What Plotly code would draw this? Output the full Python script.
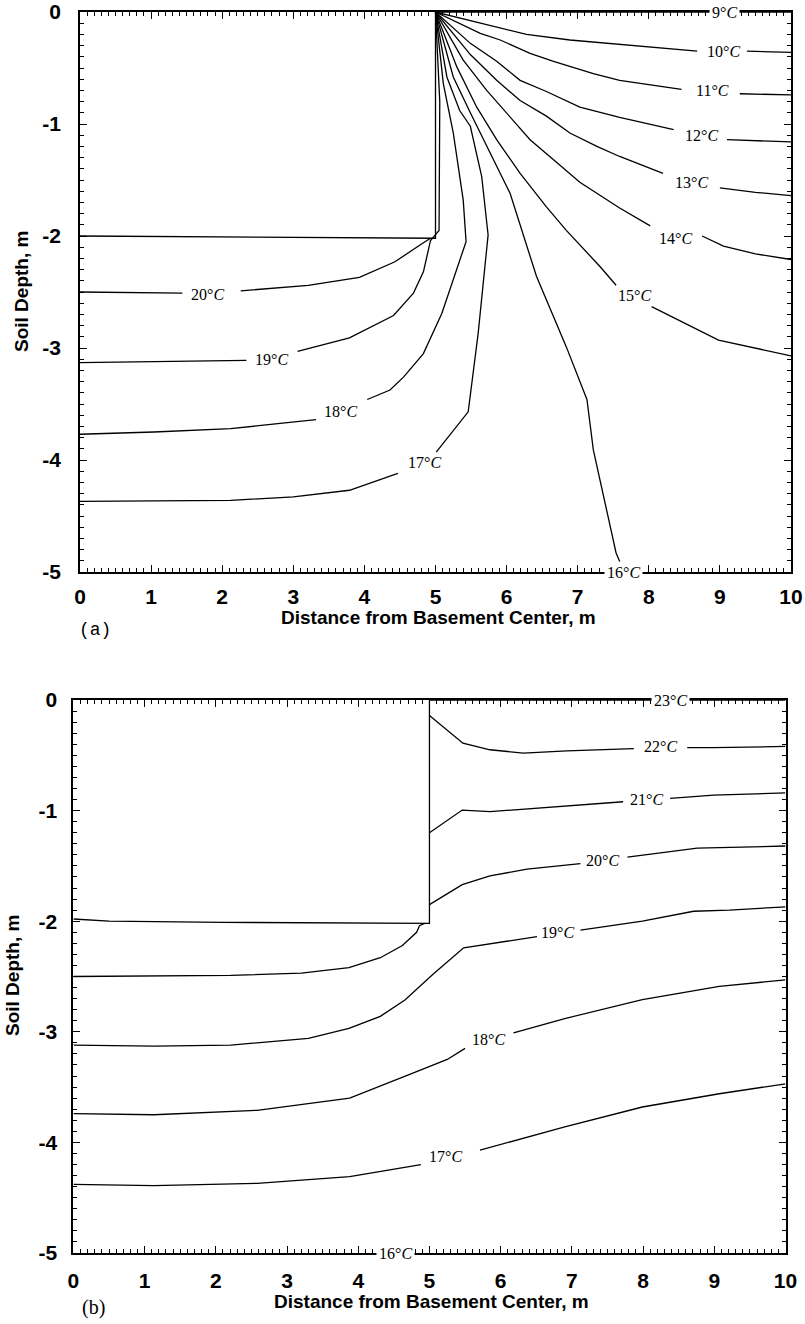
import plotly.graph_objects as go

W, H = 805, 1324

# ---------------- Panel (a) isotherms: x = distance (m), y = depth (m); None = gap at inline label
A_T09_X = [5.0, 10.0]
A_T09_Y = [0.0, 0.0]
A_T10_X = [5.0, 5.44, 6.28, 6.89, 7.59, 8.44, 8.68, None, 9.38, 10.0]
A_T10_Y = [0.0, -0.07, -0.20, -0.25, -0.29, -0.34, -0.35, None, -0.35, -0.36]
A_T11_X = [5.0, 5.63, 5.91, 6.33, 6.66, 7.22, 7.59, 8.46, None, 9.28, 10.0]
A_T11_Y = [0.0, -0.19, -0.25, -0.37, -0.44, -0.55, -0.61, -0.69, None, -0.73, -0.74]
A_T12_X = [5.0, 5.49, 5.86, 6.19, 6.56, 7.03, 7.59, 8.35, None, 9.10, 10.0]
A_T12_Y = [0.0, -0.28, -0.44, -0.61, -0.71, -0.85, -0.94, -1.05, None, -1.14, -1.16]
A_T13_X = [5.0, 5.49, 5.86, 6.19, 6.56, 6.89, 7.27, 7.59, 8.20, None, 9.0, 9.5, 10.0]
A_T13_Y = [0.0, -0.38, -0.61, -0.79, -0.93, -1.08, -1.20, -1.29, -1.44, None, -1.57, -1.61, -1.64]
A_T14_X = [5.0, 5.39, 5.72, 6.0, 6.33, 6.66, 7.03, 7.59, 8.02, None, 8.75, 9.05, 9.5, 10.0]
A_T14_Y = [0.0, -0.43, -0.70, -0.90, -1.14, -1.32, -1.52, -1.75, -1.91, None, -2.0, -2.09, -2.16, -2.21]
A_T15_X = [5.0, 5.30, 5.58, 5.86, 6.19, 6.56, 6.84, 7.10, 7.31, 7.54, None, 8.04, 8.98, 10.0]
A_T15_Y = [0.0, -0.49, -0.85, -1.14, -1.44, -1.74, -1.95, -2.13, -2.27, -2.44, None, -2.63, -2.93, -3.07]
A_T16_X = [5.0, 5.25, 5.49, 5.77, 6.05, 6.42, 6.84, 7.13, 7.22, 7.54, 7.62]
A_T16_Y = [0.0, -0.58, -0.90, -1.26, -1.62, -2.36, -2.99, -3.46, -3.91, -4.83, -4.95]
A_T17_X = [5.0, 5.16, 5.34, 5.49, 5.65, 5.74, 5.60, 5.46, 5.01, None, 4.47, 3.79, 3.0, 2.12, 0.0]
A_T17_Y = [0.0, -0.58, -0.88, -1.02, -1.47, -1.99, -2.87, -3.57, -3.93, None, -4.12, -4.27, -4.33, -4.36, -4.37]
A_T18_X = [5.0, 5.11, 5.25, 5.39, 5.43, 5.09, 4.83, 4.55, 4.36, 4.04, None, 3.32, 2.12, 1.04, 0.0]
A_T18_Y = [0.0, -0.64, -1.08, -1.68, -2.05, -2.69, -3.05, -3.26, -3.375, -3.46, None, -3.64, -3.72, -3.75, -3.77]
A_T19_X = [5.0, 5.06, 5.05, 4.93, 4.83, 4.69, 4.41, 4.22, 3.79, 3.06, None, 2.34, 1.04, 0.0]
A_T19_Y = [0.0, -0.8, -1.95, -2.04, -2.32, -2.51, -2.71, -2.77, -2.91, -3.03, None, -3.11, -3.12, -3.13]
A_T20_X = [4.93, 4.83, 4.43, 4.22, 3.93, 3.21, 2.26, None, 1.44, 0.0]
A_T20_Y = [-2.02, -2.06, -2.23, -2.29, -2.37, -2.44, -2.49, None, -2.51, -2.50]
A_BOX_X = [0.0, 2.2, 5.0, 5.0]
A_BOX_Y = [-2.0, -2.01, -2.02, 0.0]

A_LABELS = ["9", "10", "11", "12", "13", "14", "15", "16", "17", "18", "19", "20"]
A_LABEL_X = [9.06, 9.05, 8.90, 8.74, 8.60, 8.37, 7.80, 7.65, 4.85, 3.66, 2.69, 1.80]
A_LABEL_Y = [0.0, -0.35, -0.70, -1.10, -1.52, -2.02, -2.53, -5.0, -4.02, -3.57, -3.10, -2.52]
A_LABEL_ON_AXIS = [True, False, False, False, False, False, False, True, False, False, False, False]

# ---------------- Panel (b) isotherms
B_T23_X = [5.0, 10.0]
B_T23_Y = [0.0, 0.0]
B_T22_X = [5.0, 5.47, 5.85, 6.32, 6.93, 7.40, 7.87, None, 8.62, 8.99, 10.0]
B_T22_Y = [-0.14, -0.39, -0.45, -0.48, -0.46, -0.45, -0.44, None, -0.43, -0.43, -0.42]
B_T21_X = [5.0, 5.46, 5.85, 6.46, 7.40, 7.72, None, 8.38, 8.99, 10.0]
B_T21_Y = [-1.20, -0.995, -1.01, -0.98, -0.93, -0.92, None, -0.89, -0.86, -0.84]
B_T20_X = [5.0, 5.46, 5.85, 6.37, 7.12, None, 7.78, 8.76, 10.0, None,
           4.93, 4.86, 4.82, 4.62, 4.31, 3.87, 3.2, 2.21, 0.0]
B_T20_Y = [-1.85, -1.67, -1.59, -1.53, -1.48, None, -1.42, -1.34, -1.32, None,
           -2.02, -2.04, -2.10, -2.22, -2.33, -2.42, -2.47, -2.49, -2.50]
B_T19_X = [10.0, 9.21, 8.71, 7.99, 7.12, None, 6.51, 5.48, 5.05, 4.66, 4.31, 3.87, 3.30, 2.21, 1.13, 0.0]
B_T19_Y = [-1.87, -1.90, -1.91, -2.00, -2.08, None, -2.14, -2.24, -2.48, -2.71, -2.86, -2.97, -3.06, -3.12, -3.13, -3.12]
B_T18_X = [10.0, 9.07, 7.99, 6.90, 6.18, None, 5.50, 5.25, 4.74, 3.88, 2.58, 1.13, 0.0]
B_T18_Y = [-2.53, -2.59, -2.71, -2.88, -3.01, None, -3.15, -3.25, -3.38, -3.60, -3.71, -3.75, -3.74]
B_T17_X = [10.0, 9.07, 7.99, 6.90, 5.71, None, 4.88, 3.88, 2.58, 1.13, 0.0]
B_T17_Y = [-3.47, -3.56, -3.68, -3.86, -4.07, None, -4.20, -4.31, -4.37, -4.39, -4.38]
B_BOX_X = [0.0, 0.5, 2.1, 5.0, 5.0]
B_BOX_Y = [-1.98, -2.0, -2.01, -2.02, 0.0]

B_LABELS = ["23", "22", "21", "20", "19", "18", "17", "16"]
B_LABEL_X = [8.38, 8.24, 8.05, 7.43, 6.80, 5.83, 5.22, 4.52]
B_LABEL_Y = [0.0, -0.42, -0.90, -1.45, -2.10, -3.07, -4.13, -5.0]
B_LABEL_ON_AXIS = [True, False, False, False, False, False, False, True]

# ---------------- Axes ticks
X_TICKS = [0, 1, 2, 3, 4, 5, 6, 7, 8, 9, 10]
X_TICK_TEXT = ["0", "1", "2", "3", "4", "5", "6", "7", "8", "9", "10"]
Y_TICKS = [0, -1, -2, -3, -4, -5]
Y_TICK_TEXT = ["0", "-1", "-2", "-3", "-4", "-5"]

X_TITLE = "Distance from Basement Center, m"
Y_TITLE = "Soil Depth, m"

fig = go.Figure()

A_LINES = [(A_T09_X, A_T09_Y), (A_T10_X, A_T10_Y), (A_T11_X, A_T11_Y), (A_T12_X, A_T12_Y),
           (A_T13_X, A_T13_Y), (A_T14_X, A_T14_Y), (A_T15_X, A_T15_Y), (A_T16_X, A_T16_Y),
           (A_T17_X, A_T17_Y), (A_T18_X, A_T18_Y), (A_T19_X, A_T19_Y), (A_T20_X, A_T20_Y),
           (A_BOX_X, A_BOX_Y)]
B_LINES = [(B_T23_X, B_T23_Y), (B_T22_X, B_T22_Y), (B_T21_X, B_T21_Y), (B_T20_X, B_T20_Y),
           (B_T19_X, B_T19_Y), (B_T18_X, B_T18_Y), (B_T17_X, B_T17_Y), (B_BOX_X, B_BOX_Y)]

for xs, ys in A_LINES:
    fig.add_trace(go.Scatter(x=xs, y=ys, mode="lines", xaxis="x", yaxis="y",
                             line=dict(color="black", width=1.3), showlegend=False,
                             hoverinfo="skip", connectgaps=False))
for xs, ys in B_LINES:
    fig.add_trace(go.Scatter(x=xs, y=ys, mode="lines", xaxis="x2", yaxis="y2",
                             line=dict(color="black", width=1.3), showlegend=False,
                             hoverinfo="skip", connectgaps=False))


def px_x(p):
    return p / W


def px_y(p):
    return 1 - p / H


annotations = []
LABEL_FONT = dict(family="Liberation Serif, Times New Roman, serif", size=16, color="black")
for labels, lx, ly, onaxis, xr, yr in [
    (A_LABELS, A_LABEL_X, A_LABEL_Y, A_LABEL_ON_AXIS, "x", "y"),
    (B_LABELS, B_LABEL_X, B_LABEL_Y, B_LABEL_ON_AXIS, "x2", "y2"),
]:
    for t, x, y, oa in zip(labels, lx, ly, onaxis):
        annotations.append(dict(
            x=x, y=y, xref=xr, yref=yr, text=f"{t}°<i>C</i>", showarrow=False,
            font=LABEL_FONT, bgcolor="white" if oa else "rgba(0,0,0,0)", borderpad=2,
            xanchor="center", yanchor="middle"))

TITLE_FONT = dict(family="Liberation Sans Narrow, Liberation Sans, Arial, sans-serif", size=19,
                  color="black", weight="bold")
# axis titles and panel tags
annotations += [
    dict(x=px_x(438), y=px_y(618), xref="paper", yref="paper", text=X_TITLE, showarrow=False,
         font=TITLE_FONT, xanchor="center", yanchor="middle"),
    dict(x=px_x(431), y=px_y(1301), xref="paper", yref="paper", text=X_TITLE, showarrow=False,
         font=TITLE_FONT, xanchor="center", yanchor="middle"),
    dict(x=px_x(21), y=px_y(292), xref="paper", yref="paper", text=Y_TITLE, showarrow=False,
         font=TITLE_FONT, textangle=-90, xanchor="center", yanchor="middle"),
    dict(x=px_x(12), y=px_y(976), xref="paper", yref="paper", text=Y_TITLE, showarrow=False,
         font=TITLE_FONT, textangle=-90, xanchor="center", yanchor="middle"),
    dict(x=px_x(95), y=px_y(630), xref="paper", yref="paper", text="(a)", showarrow=False,
         font=dict(family="Liberation Mono, Courier New, monospace", size=18, color="black"),
         xanchor="center", yanchor="middle"),
    dict(x=px_x(93), y=px_y(1307), xref="paper", yref="paper", text="(b)", showarrow=False,
         font=dict(family="Liberation Serif, Times New Roman, serif", size=20, color="black"),
         xanchor="center", yanchor="middle"),
]

TICK_FONT = dict(family="Liberation Sans Narrow, Liberation Sans, Arial, sans-serif", size=21,
                 color="black", weight="bold")


def xaxis(domain, anchor, standoff):
    return dict(domain=domain, anchor=anchor, range=[0, 10], showgrid=False, zeroline=False,
                showline=True, linecolor="black", linewidth=1.8, mirror="ticks",
                ticks="inside", ticklen=7, tickwidth=1.3, tickcolor="black",
                tickmode="array", tickvals=X_TICKS, ticktext=X_TICK_TEXT, tickfont=TICK_FONT,
                ticklabelstandoff=standoff,
                minor=dict(ticks="inside", ticklen=4, tickwidth=1, tickcolor="black",
                           tickmode="linear", tick0=0, dtick=0.1, showgrid=False),
                automargin=False, fixedrange=True)


def yaxis(domain, anchor, standoff):
    return dict(domain=domain, anchor=anchor, range=[-5, 0], showgrid=False, zeroline=False,
                showline=True, linecolor="black", linewidth=1.8, mirror="ticks",
                ticks="inside", ticklen=7, tickwidth=1.3, tickcolor="black",
                tickmode="array", tickvals=Y_TICKS, ticktext=Y_TICK_TEXT, tickfont=TICK_FONT,
                ticklabelstandoff=standoff,
                minor=dict(ticks="inside", ticklen=4, tickwidth=1, tickcolor="black",
                           tickmode="linear", tick0=0, dtick=0.1, showgrid=False),
                automargin=False, fixedrange=True)


fig.update_layout(
    width=W, height=H, margin=dict(l=0, r=0, t=0, b=0, pad=0),
    paper_bgcolor="white", plot_bgcolor="white", showlegend=False,
    xaxis=xaxis([px_x(80), px_x(791)], "y", 5),
    yaxis=yaxis([px_y(572), px_y(12)], "x", 13),
    xaxis2=xaxis([px_x(73.4), px_x(785.5)], "y2", 8),
    yaxis2=yaxis([px_y(1253), px_y(700)], "x2", 10),
    annotations=annotations,
)

fig.write_html("out.html")
